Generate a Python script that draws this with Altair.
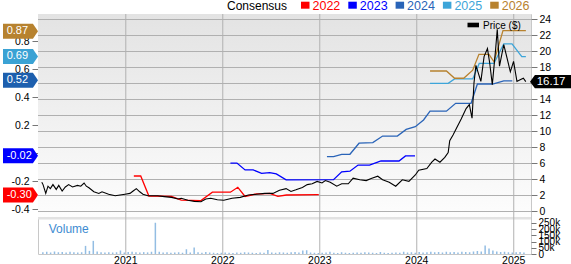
import altair as alt
import pandas as pd

FONT = "Liberation Sans"

# ---------------- data ----------------
price_year = [2020.139, 2020.152, 2020.180, 2020.203, 2020.227, 2020.254, 2020.288, 2020.314, 2020.349, 2020.382,
              2020.416, 2020.456, 2020.507, 2020.541, 2020.575, 2020.598, 2020.625, 2020.676, 2020.727, 2020.760,
              2020.828, 2020.896, 2020.946, 2020.997, 2021.048, 2021.081, 2021.114, 2021.149, 2021.182, 2021.233,
              2021.284, 2021.334, 2021.402, 2021.476, 2021.544, 2021.577, 2021.645, 2021.712, 2021.780, 2021.830,
              2021.881, 2021.949, 2022.016, 2022.101, 2022.185, 2022.269, 2022.354, 2022.438, 2022.522, 2022.590,
              2022.658, 2022.708, 2022.759, 2022.826, 2022.876, 2022.927, 2022.978, 2023.028, 2023.063, 2023.113,
              2023.180, 2023.231, 2023.299, 2023.349, 2023.417, 2023.484, 2023.535, 2023.603, 2023.653, 2023.721,
              2023.788, 2023.856, 2023.924, 2023.990, 2024.025, 2024.109, 2024.160, 2024.193, 2024.244, 2024.294,
              2024.329, 2024.345, 2024.379, 2024.413, 2024.463, 2024.514, 2024.547, 2024.575, 2024.595, 2024.615,
              2024.666, 2024.699, 2024.734, 2024.757, 2024.784, 2024.818, 2024.835, 2024.858, 2024.902, 2024.936,
              2024.970, 2025.003, 2025.038, 2025.071, 2025.104, 2025.129]
price_usd = [3.6, 3.3, 2.2, 3.1, 2.8, 3.3, 2.7, 3.2, 2.5, 3.0,
             3.3, 3.0, 3.2, 3.1, 3.5, 3.1, 2.9, 2.4, 2.2, 2.4,
             2.1, 1.9, 2.0, 2.1, 2.2, 2.5, 2.8, 2.4, 2.1, 1.9,
             1.9, 1.9, 1.8, 1.7, 1.5, 1.6, 1.35, 1.2, 1.15, 1.5,
             1.6, 1.4, 1.35, 1.6, 1.7, 2.0, 2.1, 2.2, 2.2, 2.6,
             2.8, 2.45, 2.65, 2.95, 3.3, 3.4, 3.7, 3.5, 3.8, 3.6,
             3.1, 3.4, 3.4, 4.1, 3.9, 3.8, 4.05, 4.35, 3.9, 3.6,
             3.1, 3.9, 3.7, 4.5, 5.1, 5.3, 6.1, 6.5, 6.1, 6.7,
             7.3, 8.8, 9.5, 10.3, 11.5, 12.8, 13.3, 11.6, 16.0, 18.2,
             16.2, 19.3, 20.3, 18.5, 15.8, 20.2, 22.7, 18.1, 20.8, 19.1,
             17.4, 18.7, 16.2, 16.4, 16.6, 16.17]

eps_2022_year = [2021.088, 2021.159, 2021.243, 2021.476, 2021.577, 2021.780, 2021.898, 2022.084, 2022.160,
                 2022.235, 2022.354, 2022.408, 2022.489, 2022.573, 2022.661, 2022.995]
eps_2022 = [-0.164, -0.164, -0.307, -0.31, -0.336, -0.34, -0.28, -0.28, -0.245,
            -0.31, -0.292, -0.292, -0.288, -0.31, -0.30, -0.297]

eps_2023_year = [2022.084, 2022.151, 2022.235, 2022.319, 2022.405, 2022.489, 2022.557, 2022.658, 2023.147,
                 2023.231, 2023.316, 2023.400, 2023.518, 2023.636, 2023.822, 2023.889, 2023.987]
eps_2023 = [-0.072, -0.072, -0.121, -0.121, -0.145, -0.140, -0.149, -0.192, -0.190,
            -0.134, -0.130, -0.086, -0.086, -0.057, -0.057, -0.021, -0.021]

eps_2024_year = [2023.079, 2023.147, 2023.231, 2023.316, 2023.410, 2023.552, 2023.653, 2023.805, 2023.896,
                 2023.990, 2024.075, 2024.142, 2024.311, 2024.406, 2024.565, 2024.630, 2024.787, 2024.902,
                 2024.990]
eps_2024 = [-0.026, -0.026, -0.009, -0.009, 0.070, 0.074, 0.121, 0.121, 0.169,
            0.188, 0.236, 0.299, 0.299, 0.355, 0.355, 0.493, 0.493, 0.516, 0.516]

eps_2025_year = [2024.142, 2024.329, 2024.395, 2024.582, 2024.649, 2024.801, 2024.902, 2024.987, 2025.088, 2025.13]
eps_2025 = [0.498, 0.498, 0.529, 0.529, 0.640, 0.640, 0.780, 0.780, 0.688, 0.688]

eps_2026_year = [2024.142, 2024.311, 2024.395, 2024.489, 2024.582, 2024.646, 2024.750, 2024.801, 2024.894, 2025.13]
eps_2026 = [0.586, 0.586, 0.534, 0.534, 0.592, 0.705, 0.705, 0.652, 0.874, 0.874]

# volume (thousands of shares), roughly every two weeks from early 2020
vol_first_year = 2020.15
vol_step_year = 0.04
volume_k = [15, 18, 12, 20, 14, 16, 12, 18, 15, 13,
            14, 65, 25, 105, 20, 14, 12, 15, 12, 14,
            28, 12, 16, 18, 14, 12, 15, 13, 18, 250,
            18, 12, 14, 10, 12, 14, 10, 38, 12, 52,
            14, 10, 16, 12, 10, 8, 10, 12, 10, 8,
            12, 10, 14, 12, 10, 8, 12, 10, 32, 12,
            10, 14, 12, 10, 14, 16, 12, 28, 30, 12,
            10, 8, 10, 12, 18, 10, 8, 14, 10, 8,
            10, 12, 10, 14, 12, 10, 8, 16, 10, 8,
            10, 12, 10, 18, 12, 14, 10, 16, 12, 14,
            18, 14, 16, 12, 18, 14, 16, 12, 18, 16,
            14, 20, 24, 20, 68, 45, 28, 20, 16, 18,
            14, 12, 14, 16, 12]

legend_years = ["2022", "2023", "2024", "2025", "2026"]
legend_colors = ["#ff0000", "#0000ff", "#2a64b8", "#3da5d9", "#b7822f"]
badge_labels = ["0.87", "0.69", "0.52", "-0.02", "-0.30"]
badge_values = [0.87, 0.69, 0.52, -0.02, -0.30]
badge_colors = ["#b7822f", "#3aa2d4", "#1d5fae", "#0000ff", "#ff0000"]
last_price = 16.17

year_ticks = [2021, 2022, 2023, 2024, 2025]
price_ticks = list(range(0, 25, 2))
eps_ticks = [-0.4, -0.2, 0.0, 0.2, 0.4, 0.6, 0.8]
vol_ticks = [0, 50000, 100000, 150000, 200000, 250000]

# ---------------- frames ----------------
df_price = pd.DataFrame({"yr": price_year, "price": price_usd})
parts = []
for name, ys, es in [("2022", eps_2022_year, eps_2022), ("2023", eps_2023_year, eps_2023),
                     ("2024", eps_2024_year, eps_2024), ("2025", eps_2025_year, eps_2025),
                     ("2026", eps_2026_year, eps_2026)]:
    parts.append(pd.DataFrame({"yr": ys, "eps": es, "series": name}))
df_cons = pd.concat(parts, ignore_index=True)
df_vol = pd.DataFrame({"yr": [round(vol_first_year + i * vol_step_year, 3) for i in range(len(volume_k))],
                       "vol": [v * 1000 for v in volume_k]})
df_badge = pd.DataFrame({"eps": badge_values, "label": badge_labels, "col": badge_colors})
df_last = pd.DataFrame({"price": [last_price], "label": [f"{last_price:.2f}"]})
one = pd.DataFrame({"a": [0]})

W, H = 493, 240
MAIN_H = 203
GRID = "#b0b0b0"
PX_PER_YEAR = 99.0
PX_PER_DOLLAR = 8.0

# domains chosen so that grid ticks fall on whole pixels (crisp 1px lines)
x_scale = alt.Scale(domain=[2023 - 282 / PX_PER_YEAR, 2023 + 211 / PX_PER_YEAR], nice=False, zero=False)
x_axis = alt.Axis(values=year_ticks, format="d", grid=False, ticks=False, domain=False,
                  labelFontSize=10.5, labelPadding=1, labelColor="black", title=None,
                  labelFont=FONT, labelOverlap=False, labelFlush=False)
X = alt.X("yr:Q", scale=x_scale, axis=x_axis)

eps_scale = alt.Scale(domain=[-0.457, 0.993], range=[MAIN_H, 0], nice=False, zero=False)
price_scale = alt.Scale(domain=[12 - 102 / PX_PER_DOLLAR, 12 + 101 / PX_PER_DOLLAR],
                        range=[MAIN_H, 0], nice=False, zero=False)
vol_scale = alt.Scale(domain=[0, 280000], range=[H, 205], nice=False, zero=True)

eps_axis = alt.Axis(orient="left", values=eps_ticks, grid=False, domain=False, tickSize=6,
                    tickColor="#777", labelPadding=3, labelFontSize=10.5, labelFont=FONT,
                    labelColor="black", title=None, labelOverlap=False,
                    labelExpr="(datum.value < 0 ? '-' : '') + format(abs(datum.value), '.1f')")
price_axis = alt.Axis(orient="right", values=price_ticks, grid=False, domain=False, tickSize=6,
                      tickColor="#777", labelPadding=2, labelFontSize=10.5, labelFont=FONT,
                      labelColor="black", title=None, labelOverlap=False)
vol_axis = alt.Axis(orient="right", values=vol_ticks, grid=False, domain=False, tickSize=5,
                    tickColor="#777", labelPadding=2, labelFontSize=10, labelFont=FONT,
                    labelColor="black", title=None, labelOverlap=False,
                    labelExpr="datum.value == 0 ? '0' : (datum.value / 1000) + 'k'")

# gradient background of the main panel
bg = alt.Chart(one).mark_rect(
    fill=alt.Gradient(gradient="linear",
                      stops=[alt.GradientStop(color="#e3e3e3", offset=0),
                             alt.GradientStop(color="#fdfdfd", offset=1)],
                      x1=0, x2=0, y1=0, y2=1)
).encode(x=alt.value(0), x2=alt.value(W), y=alt.value(0), y2=alt.value(MAIN_H))

band = alt.Chart(one).mark_rect(fill="#e2e2e2").encode(
    x=alt.value(0), x2=alt.value(W), y=alt.value(MAIN_H), y2=alt.value(MAIN_H + 2.5))

# grid lines drawn as one-pixel rectangles through the scales
year_grid = alt.Chart(pd.DataFrame({"yr": year_ticks})).transform_calculate(
    yr2=f"datum.yr + {1 / PX_PER_YEAR}"
).mark_rect(fill=GRID, opacity=1).encode(
    x=X, x2="yr2:Q", y=alt.value(0), y2=alt.value(H))
price_grid = alt.Chart(pd.DataFrame({"p": price_ticks})).transform_calculate(
    p2=f"datum.p - {1 / PX_PER_DOLLAR}"
).mark_rect(fill=GRID, opacity=1).encode(
    y=alt.Y("p:Q", scale=price_scale, axis=None), y2="p2:Q", x=alt.value(0), x2=alt.value(W))

vol_bars = alt.Chart(df_vol).mark_bar(size=1.5, color="#93bde3").encode(
    x=X, y=alt.Y("vol:Q", scale=vol_scale, axis=vol_axis))

vol_label = alt.Chart(one).mark_text(text="Volume", align="left", baseline="alphabetic",
                                     fontSize=12, font=FONT, color="#3d8bd1").encode(
    x=alt.value(10.7), y=alt.value(219))

# consensus lines and badges
cons_lines = alt.Chart(df_cons).mark_line(strokeWidth=1.3).encode(
    x=X, y=alt.Y("eps:Q", scale=eps_scale, axis=eps_axis),
    color=alt.Color("series:N", scale=alt.Scale(domain=legend_years, range=legend_colors), legend=None))

left_badge_path = "M-1,-0.43L0.71,-0.43L1,0L0.71,0.43L-1,0.43Z"
badges = alt.Chart(df_badge).mark_point(shape=left_badge_path, size=1225, filled=True,
                                        opacity=1, strokeWidth=0).encode(
    x=alt.value(-17.5), y=alt.Y("eps:Q", scale=eps_scale, axis=eps_axis),
    color=alt.Color("col:N", scale=None))
badge_text = alt.Chart(df_badge).mark_text(align="left", baseline="middle", fontSize=11,
                                           font=FONT, color="white").encode(
    x=alt.value(-31.3), y=alt.Y("eps:Q", scale=eps_scale, axis=eps_axis), text="label:N")

eps_layer = alt.layer(cons_lines, badges, badge_text)

# price line and last-price badge
price_line = alt.Chart(df_price).mark_line(color="black", strokeWidth=1.1).encode(
    x=X, y=alt.Y("price:Q", scale=price_scale, axis=price_axis))
right_badge_path = "M-1,0L-0.76,-0.32L1,-0.32L1,0.32L-0.76,0.32Z"
price_badge = alt.Chart(df_last).mark_point(shape=right_badge_path, size=1681, filled=True,
                                            opacity=1, strokeWidth=0, color="black").encode(
    x=alt.value(512.5), y=alt.Y("price:Q", scale=price_scale, axis=price_axis))
price_badge_text = alt.Chart(df_last).mark_text(align="left", baseline="middle", fontSize=11.5,
                                                font=FONT, color="white").encode(
    x=alt.value(498.7), y=alt.Y("price:Q", scale=price_scale, axis=price_axis), text="label:N")
price_layer = alt.layer(price_line, price_badge, price_badge_text)

# legends
legend_layers = [
    alt.Chart(one).mark_text(text="Consensus", align="left", baseline="alphabetic", fontSize=12,
                             font=FONT, color="black").encode(x=alt.value(189), y=alt.value(-4.5)),
    alt.Chart(one).mark_rect(fill="black").encode(x=alt.value(429.5), x2=alt.value(441),
                                                  y=alt.value(8.7), y2=alt.value(13.3)),
    alt.Chart(one).mark_text(text="Price ($)", align="left", baseline="alphabetic", fontSize=10,
                             font=FONT, color="black").encode(x=alt.value(445), y=alt.value(14.5)),
]
for i, (yr, col) in enumerate(zip(legend_years, legend_colors)):
    sx = 263 + 47.3 * i
    legend_layers.append(alt.Chart(one).mark_rect(fill=col).encode(
        x=alt.value(sx), x2=alt.value(sx + 8.5), y=alt.value(-12.3), y2=alt.value(-5.3)))
    legend_layers.append(alt.Chart(one).mark_text(text=yr, align="left", baseline="alphabetic",
                                                  fontSize=12.5, font=FONT, color=col).encode(
        x=alt.value(sx + 11.5), y=alt.value(-4.5)))

chart = alt.layer(
    bg, band, year_grid, price_grid, vol_bars, vol_label, eps_layer, price_layer, *legend_layers
).resolve_scale(y="independent").properties(
    width=W, height=H,
    padding={"left": 38, "top": 14, "right": 40, "bottom": 10},
    autosize=alt.AutoSizeParams(type="none"),
    background="white",
).configure_view(stroke="#c8c8c8", strokeWidth=1)

chart.save("out.html", embed_options={"renderer": "svg", "actions": False})
